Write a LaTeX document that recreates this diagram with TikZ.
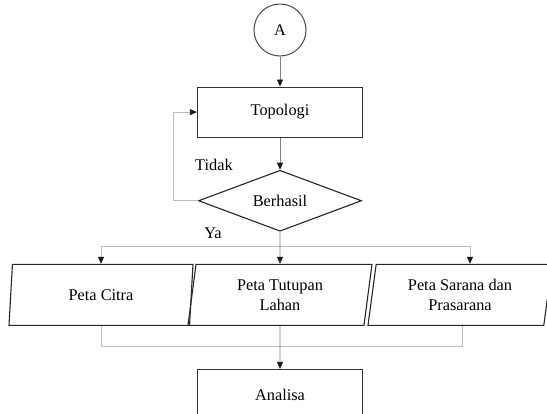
\documentclass[tikz,border=0pt]{standalone}
\usepackage{fontspec}
\setmainfont{Liberation Serif}
\usetikzlibrary{positioning,arrows.meta,shapes.geometric}

\begin{document}
\begin{tikzpicture}[
    node distance=30pt and 10pt,
    every node/.style={font=\fontsize{16.3}{20}\selectfont},
    box/.style={draw=black!80, line width=1.2pt, minimum width=165pt, minimum height=50pt, align=center},
    conn/.style={circle, draw=black!70, line width=1pt, minimum size=52pt},
    dec/.style={diamond, draw=black!85, line width=1.1pt, minimum width=163pt, minimum height=61pt, aspect=2.67, inner sep=0pt},
    io/.style={trapezium, trapezium left angle=77, trapezium right angle=103, trapezium stretches body, draw=black!85, line width=1.1pt, minimum width=184pt, minimum height=61pt, align=center, inner sep=2pt},
    arr/.style={-{Triangle[length=7pt,width=6pt,color=black!90]}, draw=black!50, line width=0.8pt},
    line/.style={draw=black!25, line width=0.8pt},
    lbl/.style={inner sep=0pt}
]
\useasboundingbox (0,0) rectangle (547pt,-413pt);

\node[conn] (A) at (280pt,-30pt) {A};
\node[box, below=30pt of A] (topo) {Topologi};
\node[dec, below=32pt of topo] (cek) {Berhasil};

\node[io, below=32pt of cek] (tutupan) {Peta Tutupan\\Lahan};
\node[io] (citra) at ([xshift=-179pt]tutupan) {Peta Citra};
\node[io] (sarana) at ([xshift=180pt]tutupan) {Peta Sarana dan\\Prasarana};

\node[box, below=43pt of tutupan] (analisa) {Analisa};

\node[lbl] (tidak) at ([xshift=16pt,yshift=36pt]cek.west) {Tidak};
\node[lbl] (ya) at ([xshift=-67pt,yshift=-1pt]cek.south) {Ya};

\coordinate (bagi) at ([yshift=-15pt]cek.south);
\coordinate (gabung) at ([yshift=-20pt]tutupan.south);

\draw[arr] (A) -- (topo);
\draw[arr] (topo) -- (cek);
\draw[arr, draw=black!25] (cek.west) -- ++(-25pt,0) |- (topo.west);
\draw[arr, draw=black!25] (bagi) -| (citra.north);
\draw[arr, draw=black!25] (bagi) -| ([xshift=10pt]sarana.north);
\draw[arr] (cek) -- (tutupan);
\draw[line] (citra.south) |- (gabung) -| ([xshift=2pt]sarana.south);
\draw[arr] (tutupan) -- (analisa);
\end{tikzpicture}
\end{document}
